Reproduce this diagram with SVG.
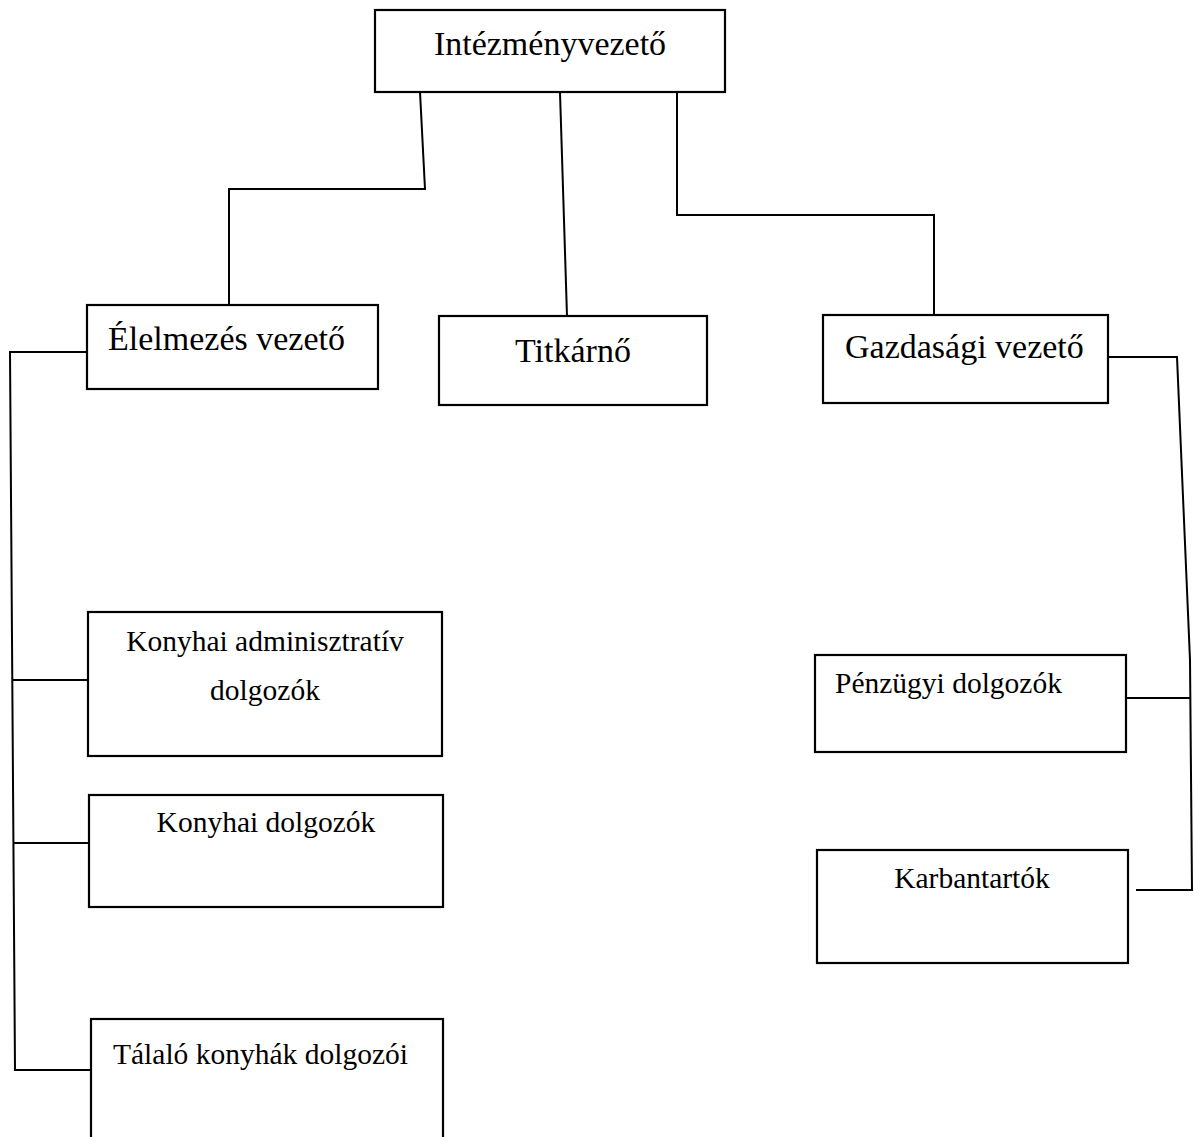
<svg xmlns="http://www.w3.org/2000/svg" width="1194" height="1137" viewBox="0 0 1194 1137">
<style>
.box{fill:#fff;stroke:#000;stroke-width:2.2}
.ln{fill:none;stroke:#000;stroke-width:2}
.h{font-family:"Liberation Serif","Times New Roman",serif;font-size:34px;fill:#000}
.t{font-family:"Liberation Serif","Times New Roman",serif;font-size:29.5px;fill:#000}
</style>
<rect width="1194" height="1137" fill="#fff"/>
<g id="connectors">
<polyline class="ln" points="420,92 425,189 229,189 229,305"/>
<polyline class="ln" points="560,92 567,316"/>
<polyline class="ln" points="677,92 677,215 934,215 934,316"/>
<polyline class="ln" points="87,352 10,352 15,1070 91,1070"/>
<line class="ln" x1="12" y1="680" x2="89" y2="680"/>
<line class="ln" x1="14" y1="843" x2="89" y2="843"/>
<polyline class="ln" points="1108,357 1177,357 1190,660 1192,890 1136,890"/>
<line class="ln" x1="1126" y1="698" x2="1191" y2="698"/>
</g>
<g id="n-intezmenyvezeto">
<rect class="box" x="375" y="10" width="350" height="82"/>
<text class="h" x="550" y="55" text-anchor="middle">Intézményvezető</text>
</g>
<g id="n-elelmezes">
<rect class="box" x="87" y="305" width="291" height="84"/>
<text class="h" x="108" y="350">Élelmezés vezető</text>
</g>
<g id="n-titkarno">
<rect class="box" x="439" y="316" width="268" height="89"/>
<text class="h" x="573" y="362" text-anchor="middle">Titkárnő</text>
</g>
<g id="n-gazdasagi">
<rect class="box" x="823" y="315" width="285" height="88"/>
<text class="h" x="845" y="358">Gazdasági vezető</text>
</g>
<g id="n-konyhai-adm">
<rect class="box" x="88" y="612" width="354" height="144"/>
<text class="t" x="265" y="651" text-anchor="middle">Konyhai adminisztratív</text>
<text class="t" x="265" y="700" text-anchor="middle">dolgozók</text>
</g>
<g id="n-konyhai-dolg">
<rect class="box" x="89" y="795" width="354" height="112"/>
<text class="t" x="266" y="832" text-anchor="middle">Konyhai dolgozók</text>
</g>
<g id="n-talalo">
<rect class="box" x="91" y="1019" width="352" height="130"/>
<text class="t" x="113" y="1064">Tálaló konyhák dolgozói</text>
</g>
<g id="n-penzugyi">
<rect class="box" x="815" y="655" width="311" height="97"/>
<text class="t" x="835" y="693">Pénzügyi dolgozók</text>
</g>
<g id="n-karbantartok">
<rect class="box" x="817" y="850" width="311" height="113"/>
<text class="t" x="972" y="888" text-anchor="middle">Karbantartók</text>
</g>
</svg>
